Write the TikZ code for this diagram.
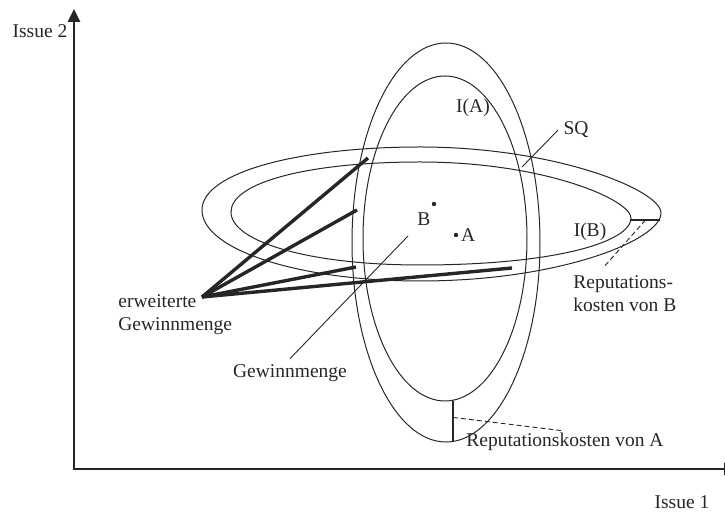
\documentclass[tikz,border=0pt]{standalone}
\usepackage{fontspec}
\setmainfont{Liberation Serif}
\usepackage{tikz}
\usetikzlibrary{positioning, arrows.meta, calc}
\tikzset{
  axis/.style={line width=1.25pt, {Triangle[length=6.5pt, width=6pt]}-{Triangle[length=6.5pt, width=6pt]}},
  curve/.style={line width=0.5pt},
  fan/.style={line width=1.7pt},
  leader/.style={line width=0.45pt},
  cost/.style={line width=1.1pt},
  costline/.style={line width=0.45pt, dash pattern=on 2.5pt off 1.5pt},
  txt/.style={inner sep=0pt, font=\fontsize{9.75}{11.75}\selectfont},
  dot/.style={circle, fill, inner sep=0pt, minimum size=2.2pt}
}

\begin{document}
\begin{tikzpicture}[x=0.5pt, y=-0.5pt, color=black!85]
    \useasboundingbox (0,0) rectangle (725,512);

    % --- Achsen ---
    \draw [axis] (74,9) |- (737,469);
    \node (issue2) [txt] at (40,31) {Issue 2};
    \node (issue1) [txt] at (682,502) {Issue 1};

    % --- Indifferenzkurven ---
    \draw [curve] (446,242.5) ellipse [x radius=47pt, y radius=99.75pt];
    \draw [curve] (445,238.5) ellipse [x radius=41pt, y radius=81.25pt];
    \draw [curve] (202,210) .. controls (202,172) and (300,147) .. (420,147)
        .. controls (555,147) and (661,190) .. (661,213)
        .. controls (661,240) and (560,281) .. (420,281)
        .. controls (300,281) and (202,250) .. cycle;
    \draw [curve] (231,212) .. controls (231,182) and (310,162) .. (420,162)
        .. controls (545,162) and (631,200) .. (631,218)
        .. controls (631,242) and (555,265) .. (420,265)
        .. controls (310,265) and (231,242) .. cycle;

    % --- Punkte und Beschriftungen ---
    \node (dotB) [dot] at (434,204) {};
    \node (B) [txt] at (424,219) {B};
    \node (dotA) [dot] at (456,235) {};
    \node (A) [txt, right=1pt of dotA] {A};
    \node (IA) [txt] at (473,108) {I(A)};
    \node (SQ) [txt] at (576,130) {SQ};
    \node (IB) [txt] at (590,232) {I(B)};
    \node (repB) [txt, align=left, anchor=north west] at (573,275) {Reputations-\\kosten von B};
    \node (repA) [txt, anchor=base west] at (466,446.5) {Reputationskosten von A};
    \node (ew) [txt, align=left, anchor=north west] at (118,294) {erweiterte\\Gewinnmenge};
    \node (gw) [txt, anchor=base] at (290,378) {Gewinnmenge};

    % --- Linien ---
    \coordinate (sqfoot) at (522,167);
    \coordinate (gwtip) at (408,236);
    \coordinate (fan) at (202,297);
    \coordinate (e1) at (368,158);
    \coordinate (e2) at (357,210);
    \coordinate (e3) at (356,267);
    \coordinate (e4) at (512,268);
    \coordinate (ia) at (453,401);
    \coordinate (oa) at (453,442);
    \coordinate (ib) at (631,220);
    \coordinate (ob) at (660,220);

    \draw [leader] ([xshift=-2.5pt]SQ.west) -- (sqfoot);
    \draw [leader] (gwtip) -- ([yshift=3pt]gw.north);

    \foreach \e in {e1,e2,e3,e4}
        \draw [fan] (fan) -- (\e);

    \draw [cost] (ia) -- (oa);
    \draw [costline] ($(ia)!0.4!(oa)$) -- ([xshift=-2pt, yshift=1pt]repA.north);
    \draw [cost] (ib) -- (ob);
    \draw [costline] ($(ib)!0.5!(ob)$) -- ([xshift=15pt, yshift=3.5pt]repB.north west);

\end{tikzpicture}
\end{document}
